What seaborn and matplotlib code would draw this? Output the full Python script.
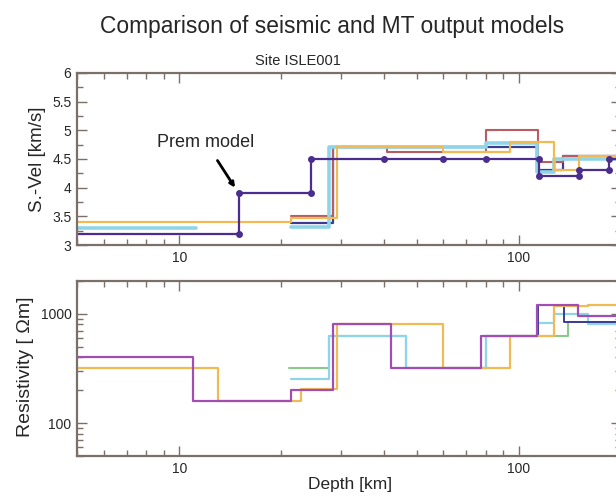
import numpy as np
import pandas as pd
import matplotlib
matplotlib.use("Agg")
import matplotlib.pyplot as plt
from matplotlib.ticker import LogLocator, FixedLocator, FixedFormatter, MultipleLocator, NullFormatter
import seaborn as sns

sns.set_style("ticks")
plt.rcParams['font.family'] = ['Liberation Sans', 'DejaVu Sans']

# ---------------- data ----------------
# PREM model (vertices of the step curve, dots at each vertex)
prem_depth = [5, 15, 15, 24.4, 24.4, 40, 60, 80, 115, 115, 150, 150, 185, 185, 200]
prem_vel = [3.2, 3.2, 3.9, 3.9, 4.5, 4.5, 4.5, 4.5, 4.5, 4.2, 4.2, 4.3, 4.3, 4.5, 4.5]

# seismic output models: layer boundaries (km) and S-velocities (km/s)
seis_navy_b = [21.3, 28.3, 113, 135, 200]
seis_navy_v = [3.38, 4.7, 4.3, 4.55]
seis_cyan_a_b = [5, 11.2]
seis_cyan_a_v = [3.3]
seis_cyan_b = [21.3, 27.7, 80, 113, 127, 200]
seis_cyan_v = [3.32, 4.7, 4.77, 4.28, 4.5]
seis_yellow_b = [5, 21.3, 29.1, 60, 94, 127, 150, 200]
seis_yellow_v = [3.4, 3.47, 4.71, 4.62, 4.8, 4.3, 4.55]
seis_red_b = [21.3, 28.3, 41, 80, 114, 135, 200]
seis_red_v = [3.5, 4.7, 4.63, 5.0, 4.45, 4.55]

# MT output models: layer boundaries (km) and resistivities (Ohm m)
mt_green_b = [21, 27.7, 46.6, 80, 140, 200]
mt_green_v = [318, 632, 318, 632, 850]
mt_cyan_b = [21.3, 27.7, 46.6, 80, 114, 127, 160, 200]
mt_cyan_v = [252, 632, 318, 632, 830, 1000, 800]
mt_navy_b = [78, 114, 136, 200]
mt_navy_v = [632, 1200, 850]
mt_yellow_b = [5, 13, 22.8, 29.1, 60, 94, 127, 160, 200]
mt_yellow_v = [320, 160, 205, 800, 318, 632, 1180, 1200]
mt_purple_b = [5, 11, 21.3, 28.3, 42, 77.6, 113, 149, 200]
mt_purple_v = [400, 160, 200, 800, 318, 632, 1200, 950]

x_ticks = [10, 100]
x_ticklabels = ["10", "100"]
vel_ticks = [3, 3.5, 4, 4.5, 5, 5.5, 6]
vel_ticklabels = ["3", "3.5", "4", "4.5", "5", "5.5", "6"]
res_ticks = [100, 1000]
res_ticklabels = ["100", "1000"]

# ---------------- colours ----------------
C_PREM = "#4a2d8c"
C_NAVY = "#3c3c92"
C_CYAN = "#8ed5ea"
C_YELLOW = "#f0bb55"
C_RED = "#b85c62"
C_GREEN = "#8acb8a"
C_PURPLE = "#a24db2"
SPINE = "#7b7069"


def step_df(b, v):
    return pd.DataFrame({"depth": b, "val": list(v) + [v[-1]]})


def draw_step(ax, b, v, color, lw=1.5):
    df = step_df(b, v)
    sns.lineplot(data=df, x="depth", y="val", ax=ax, color=color, lw=lw,
                 drawstyle="steps-post", estimator=None, sort=False)


fig = plt.figure(figsize=(6.16, 4.96), dpi=100)
ax1 = fig.add_axes([0.125, 0.506, 0.883, 0.347])
ax2 = fig.add_axes([0.125, 0.0806, 0.883, 0.353])

# ---- top panel ----
draw_step(ax1, seis_navy_b, seis_navy_v, C_NAVY, 1.6)
draw_step(ax1, seis_red_b, seis_red_v, C_RED, 1.5)
draw_step(ax1, seis_cyan_a_b, seis_cyan_a_v, C_CYAN, 2.6)
draw_step(ax1, seis_cyan_b, seis_cyan_v, C_CYAN, 2.6)
draw_step(ax1, seis_yellow_b, seis_yellow_v, C_YELLOW, 1.6)
prem_df = pd.DataFrame({"depth": prem_depth, "vel": prem_vel})
sns.lineplot(data=prem_df, x="depth", y="vel", ax=ax1, color=C_PREM, lw=1.6,
             estimator=None, sort=False, marker="o", markersize=5,
             markeredgewidth=0, markevery=list(range(1, len(prem_depth) - 1)))

ax1.annotate("Prem model", xy=(14.6, 4.0), xytext=(12.0, 4.78),
             ha="center", va="center", fontsize=13,
             arrowprops=dict(arrowstyle="-|>", color="black", lw=2.0,
                             shrinkA=5, shrinkB=0, mutation_scale=7))

# ---- bottom panel ----
draw_step(ax2, mt_green_b, mt_green_v, C_GREEN, 1.5)
draw_step(ax2, mt_cyan_b, mt_cyan_v, C_CYAN, 1.6)
draw_step(ax2, mt_navy_b, mt_navy_v, C_NAVY, 1.4)
draw_step(ax2, mt_yellow_b, mt_yellow_v, C_YELLOW, 1.6)
draw_step(ax2, mt_purple_b, mt_purple_v, C_PURPLE, 1.6)

for ax in (ax1, ax2):
    ax.set_xscale("log")
    ax.set_xlim(5, 200)
    ax.xaxis.set_major_locator(FixedLocator(x_ticks))
    ax.xaxis.set_major_formatter(FixedFormatter(x_ticklabels))
    ax.xaxis.set_minor_locator(LogLocator(base=10, subs=np.arange(2, 10)))
    ax.xaxis.set_minor_formatter(NullFormatter())
    ax.tick_params(which="both", direction="in", top=True, right=True,
                   color=SPINE, width=1.0, labelsize=10, pad=4)
    ax.tick_params(which="major", length=7)
    ax.tick_params(which="minor", length=4)
    for s in ax.spines.values():
        s.set_color(SPINE)
        s.set_linewidth(1.6)
    ax.set_xlabel("")

ax1.set_ylim(3, 6)
ax1.yaxis.set_major_locator(FixedLocator(vel_ticks))
ax1.yaxis.set_major_formatter(FixedFormatter(vel_ticklabels))
ax1.yaxis.set_minor_locator(MultipleLocator(0.25))
ax1.set_ylabel("S.-Vel [km/s]", fontsize=13.5)
ax1.yaxis.set_label_coords(-0.057, 0.5)

ax2.set_yscale("log")
ax2.set_ylim(50, 2000)
ax2.yaxis.set_major_locator(FixedLocator(res_ticks))
ax2.yaxis.set_major_formatter(FixedFormatter(res_ticklabels))
ax2.yaxis.set_minor_locator(LogLocator(base=10, subs=np.arange(2, 10)))
ax2.yaxis.set_minor_formatter(NullFormatter())
ax2.set_ylabel("Resistivity [ \u03a9m]", fontsize=14)
ax2.yaxis.set_label_coords(-0.079, 0.51)
ax2.set_xlabel("Depth [km]", fontsize=12.5)
ax2.xaxis.set_label_coords(0.502, -0.122)

fig.text(0.539, 0.946, "Comparison of seismic and MT output models",
         ha="center", va="center", fontsize=16.4)
fig.text(0.484, 0.877, "Site ISLE001", ha="center", va="center", fontsize=10.5)

fig.savefig("out.png", dpi=100)
